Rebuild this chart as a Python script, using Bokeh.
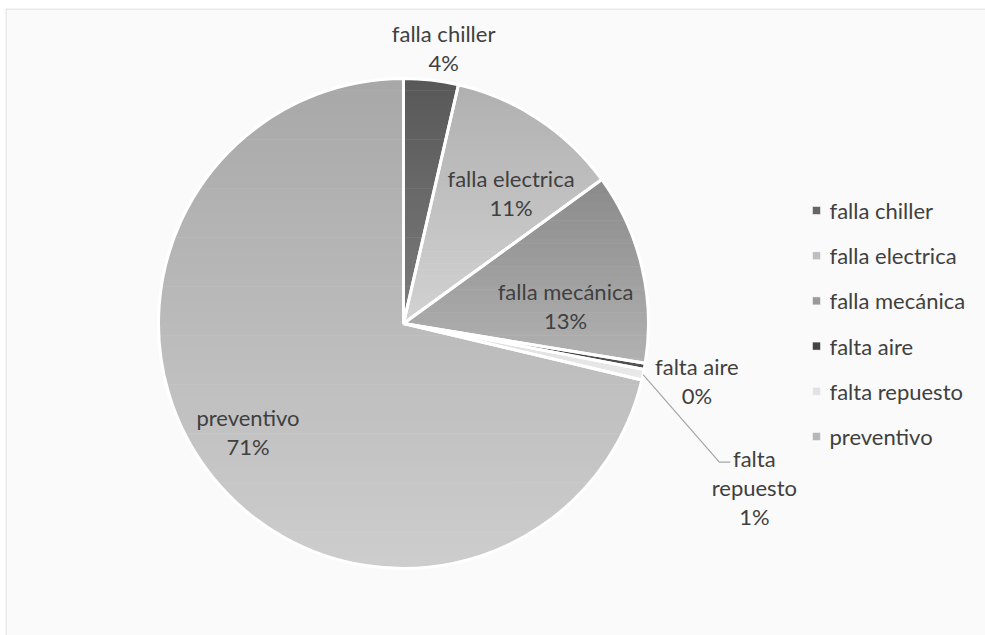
import math
from bokeh.plotting import figure
from bokeh.models import Range1d, ColumnDataSource, Span
from bokeh.core.properties import value
from bokeh.embed import file_html
from bokeh.resources import INLINE

# ---- data ----
categories = ["falla chiller", "falla electrica", "falla mecánica", "falta aire", "falta repuesto", "preventivo"]
values = [3.6, 11.4, 12.6, 0.4, 0.7, 71.3]
label_lines = [["falla chiller"], ["falla electrica"], ["falla mecánica"], ["falta aire"], ["falta", "repuesto"], ["preventivo"]]

# ---- styles (gradient top -> bottom per slice) ----
top_colors = [(0x58, 0x58, 0x58), (0xb0, 0xb0, 0xb0), (0x8a, 0x8a, 0x8a), (0x3a, 0x3a, 0x3a), (0xdc, 0xdc, 0xdc), (0xa8, 0xa8, 0xa8)]
bot_colors = [(0x7c, 0x7c, 0x7c), (0xd2, 0xd2, 0xd2), (0xb2, 0xb2, 0xb2), (0x50, 0x50, 0x50), (0xea, 0xea, 0xea), (0xcd, 0xcd, 0xcd)]

def hexc(c):
    return "#%02x%02x%02x" % tuple(int(round(v)) for v in c)

def mix(a, b, t):
    return tuple(a[k] + (b[k] - a[k]) * t for k in range(3))

# ---- layout ----
W, H = 985, 635
FL, FT = 5, 8                      # frame offset (left, top)
cx, cy = 403, H - 323
R = 245
label_pos = [(1.135, 8.3), (0.69, 39.5), (0.665, 84.0), (1.22, 101.0), (1.58, 115.0), (0.775, 235.0)]
FONT = value("Lato")
FS = "22px"
TXT = "#404040"

p = figure(width=W, height=H, output_backend="svg", toolbar_location=None,
           x_range=Range1d(FL, W), y_range=Range1d(0, H - FT),
           min_border_left=FL, min_border_top=FT, min_border_right=0, min_border_bottom=0)
p.axis.visible = False
p.grid.visible = False
p.background_fill_color = "#fafafa"
p.border_fill_color = "white"
p.outline_line_color = None
p.add_layout(Span(location=FL + 0.5, dimension="height", line_color="#d9d9d9", line_width=1))
p.add_layout(Span(location=H - FT - 0.5, dimension="width", line_color="#d9d9d9", line_width=1))

total = sum(values)
starts, ends, mids = [], [], []
cum = 0.0
for v in values:
    a0 = math.pi / 2 - cum / total * 2 * math.pi
    cum += v
    a1 = math.pi / 2 - cum / total * 2 * math.pi
    starts.append(a0)
    ends.append(a1)
    mids.append((a0 + a1) / 2)

def clip(poly, ylo, yhi):
    def clip_edge(pts, inside, inter):
        out = []
        n = len(pts)
        for k in range(n):
            cur, prev = pts[k], pts[k - 1]
            ci, pi_ = inside(cur), inside(prev)
            if ci:
                if not pi_:
                    out.append(inter(prev, cur))
                out.append(cur)
            elif pi_:
                out.append(inter(prev, cur))
        return out
    def interY(yv):
        def f(a, b):
            t = (yv - a[1]) / (b[1] - a[1])
            return (a[0] + t * (b[0] - a[0]), yv)
        return f
    pts = clip_edge(poly, lambda q: q[1] >= ylo, interY(ylo))
    if not pts:
        return []
    pts = clip_edge(pts, lambda q: q[1] <= yhi, interY(yhi))
    return pts

xs, ys, fc = [], [], []
NB = 40
for i in range(len(values)):
    a0, a1 = starts[i], ends[i]
    n = max(4, int(abs(a0 - a1) / (2 * math.pi) * 360))
    poly = [(cx, cy)] + [(cx + R * math.cos(a0 + (a1 - a0) * k / n), cy + R * math.sin(a0 + (a1 - a0) * k / n)) for k in range(n + 1)]
    ymin = min(q[1] for q in poly)
    ymax = max(q[1] for q in poly)
    h = (ymax - ymin) / NB
    for b in range(NB):
        ylo = ymin + b * h
        yhi = ylo + h + 0.6
        pts = clip(poly, ylo, yhi)
        if len(pts) < 3:
            continue
        t = 1 - (b + 0.5) / NB   # top -> 0, bottom -> 1
        xs.append([q[0] for q in pts])
        ys.append([q[1] for q in pts])
        fc.append(hexc(mix(top_colors[i], bot_colors[i], t)))

p.patches(xs="xs", ys="ys", fill_color="fc", line_color=None,
          source=ColumnDataSource(dict(xs=xs, ys=ys, fc=fc)))

src = ColumnDataSource(dict(start=starts, end=ends, cat=categories))
p.wedge(x=cx, y=cy, radius=R, start_angle="start", end_angle="end", direction="clock",
        fill_alpha=0, line_color="white", line_width=3, source=src)

# data labels
for i, (lines, (rf, deg)) in enumerate(zip(label_lines, label_pos)):
    th = math.radians(deg)
    lx = cx + rf * R * math.sin(th)
    ly = cy + rf * R * math.cos(th)
    pct = f"{round(values[i] / total * 100)}%"
    all_lines = lines + [pct]
    n = len(all_lines)
    lh = 29
    for j, t in enumerate(all_lines):
        yy = ly + (n - 1) * lh / 2 - j * lh
        p.text(x=[lx], y=[yy], text=[t], text_font=FONT, text_font_size=FS,
               text_color=TXT, text_align="center", text_baseline="middle")

# leader line for falta repuesto
i = 4
ma = mids[i]
ex, ey = cx + R * math.cos(ma), cy + R * math.sin(ma)
rf, deg = label_pos[i]
th = math.radians(deg)
lx = cx + rf * R * math.sin(th)
ly = cy + rf * R * math.cos(th)
kx, ky = lx - 35, ly + 25
p.line(x=[ex, kx, kx + 11], y=[ey, ky, ky], line_color="#a6a6a6", line_width=1.2)

# legend
lg_x, lg_y0, lg_dy = 816, H - 210, 45.2
for k, t in enumerate(categories):
    yy = lg_y0 - k * lg_dy
    c = hexc(mix(top_colors[k], bot_colors[k], 0.4))
    p.scatter(x=[lg_x], y=[yy], marker="square", size=8, fill_color=c, line_color="white", line_width=0.5)
    p.text(x=[lg_x + 13], y=[yy], text=[t], text_font=FONT, text_font_size=FS,
           text_color=TXT, text_align="left", text_baseline="middle")

open("out.html", "w").write(file_html(p, INLINE))
